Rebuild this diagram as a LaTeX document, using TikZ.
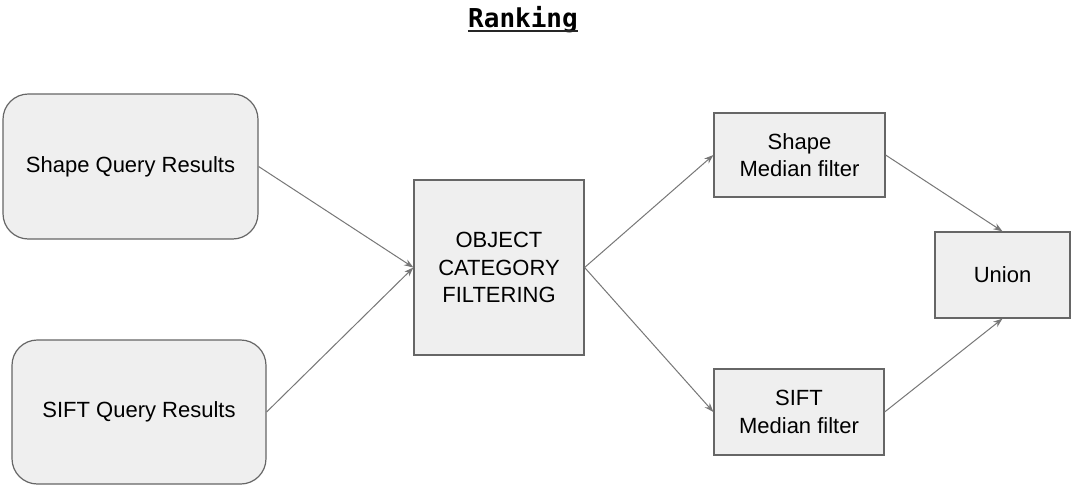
\documentclass[tikz,border=0pt]{standalone}
\usepackage{fontspec}
\setmainfont{Liberation Sans}
\newfontfamily\titlefont{DejaVu Sans Mono}
\usetikzlibrary{arrows.meta}
\definecolor{boxfill}{HTML}{EFEFEF}
\definecolor{boxline}{HTML}{666666}
\definecolor{arrowgray}{HTML}{777777}
\begin{document}
\begin{tikzpicture}[x=0.75pt,y=-0.75pt,
  box/.style={draw=boxline,fill=boxfill,line width=0.9pt,inner sep=0pt,
    align=center,font=\fontsize{16.5}{20.6}\selectfont},
  roundbox/.style={box,rounded corners=19pt},
  link/.style={draw=arrowgray,line width=0.75pt,
    -{Stealth[length=7pt,width=5pt]}}]
\useasboundingbox[fill=white] (0,0) rectangle (1071,487);

% title
\node[anchor=base,font=\titlefont\bfseries\fontsize{19.5}{22}\selectfont,inner sep=0pt]
  (title) at (523,27) {Ranking};
\draw[line width=2.2pt,black!85] ([yshift=-3pt]title.base west) -- ([yshift=-3pt]title.base east);

% inputs
\node[roundbox,minimum width=191.25pt,minimum height=108.75pt] (shapeq) at (130.5,166.5) {Shape Query Results};
\node[roundbox,minimum width=190.5pt,minimum height=108pt] (siftq) at (139,412) {SIFT Query Results};

% filtering stage
\node[box,minimum width=127.5pt,minimum height=131.25pt] (filter) at (499,267.5) {OBJECT\\CATEGORY\\FILTERING};

% median filters
\node[box,minimum width=128.25pt,minimum height=63pt] (shapem) at (799.5,155) {Shape\\Median filter};
\node[box,minimum width=127.5pt,minimum height=64.5pt] (siftm) at (799,412) {SIFT\\Median filter};

% merge
\node[box,minimum width=101.25pt,minimum height=64.5pt] (union) at (1002.5,275) {Union};

% connectors
\draw[link] (shapeq.east) -- (filter.west);
\draw[link] (siftq.east) -- (filter.west);
\draw[link] (filter.east) -- (shapem.west);
\draw[link] (filter.east) -- (siftm.west);
\draw[link] (shapem.east) -- (union.north);
\draw[link] (siftm.east) -- (union.south);
\end{tikzpicture}
\end{document}
